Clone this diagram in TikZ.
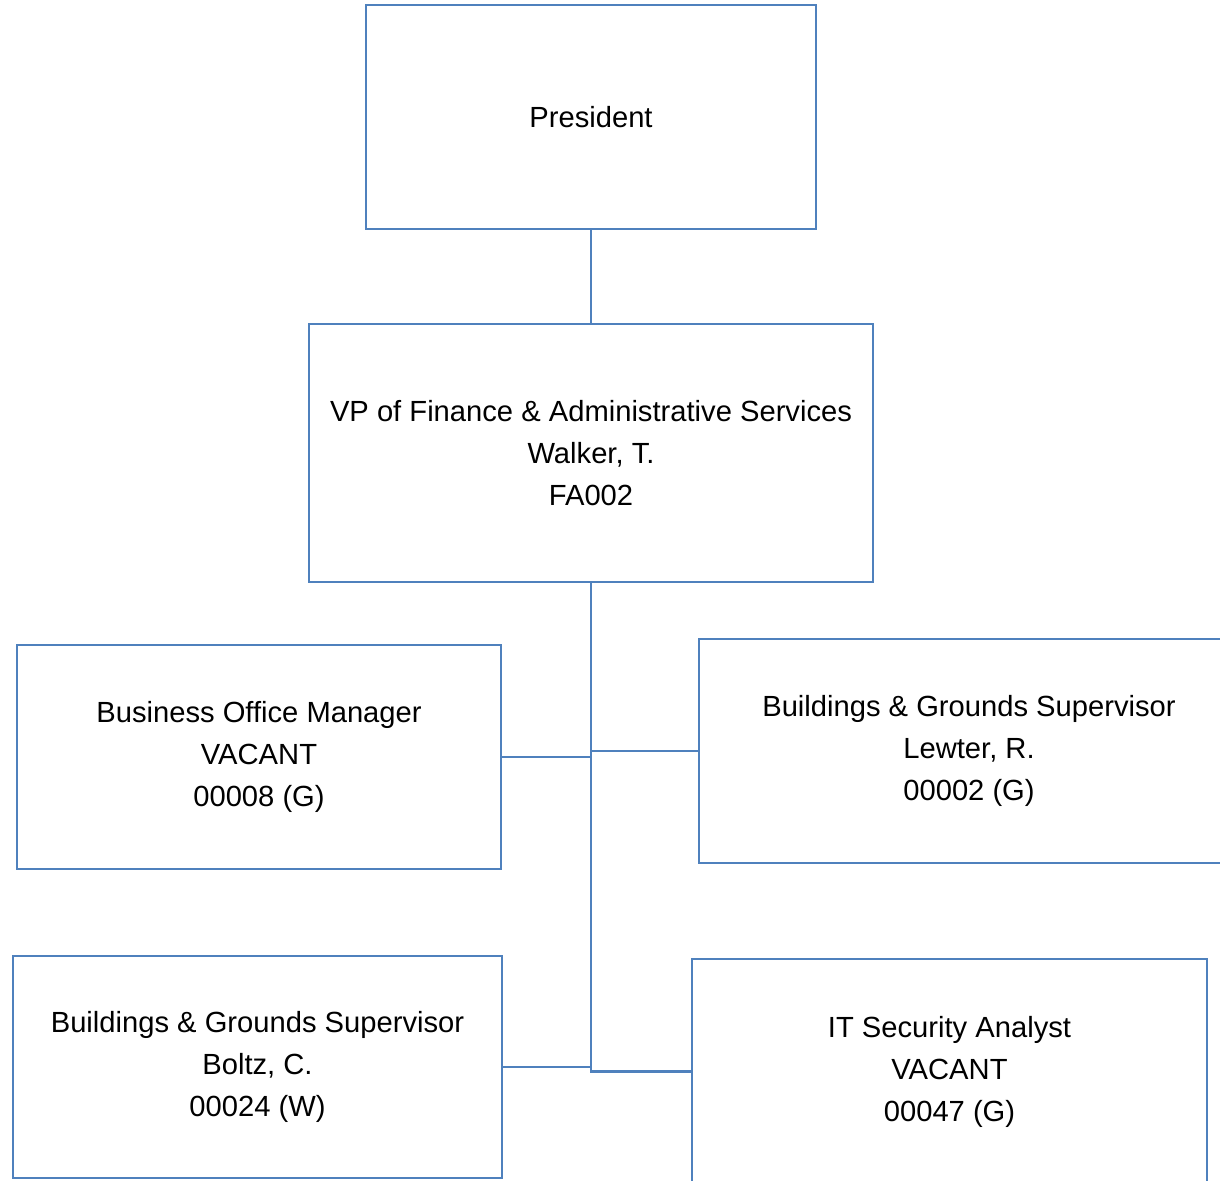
\documentclass[tikz,border=0pt]{standalone}
\usepackage{fontspec}
\setmainfont{Liberation Sans}
\definecolor{orgblue}{RGB}{79,129,189}
\tikzset{
  posbox/.style={draw=orgblue, line width=1.6pt, align=center, inner sep=0pt,
    font=\fontsize{16.6}{23.9}\selectfont},
  link/.style={draw=orgblue, line width=1.6pt}
}
\begin{document}
\begin{tikzpicture}[x=0.02cm,y=-0.02cm]
  \useasboundingbox (0,0) rectangle (1220,1180);
  \clip (0,0) rectangle (1220,1180);

  \node[posbox, minimum width=9cm, minimum height=4.48cm] (pres) at (591,117) {President};
  \node[posbox, minimum width=11.28cm, minimum height=5.16cm] (vp) at (591,453)
    {VP of Finance \& Administrative Services\\Walker, T.\\FA002};
  \node[posbox, minimum width=9.68cm, minimum height=4.48cm] (bom) at (259,757)
    {Business Office Manager\\VACANT\\00008 (G)};
  \node[posbox, minimum width=10.8cm, minimum height=4.48cm] (lewter) at (969,751)
    {Buildings \& Grounds Supervisor\\Lewter, R.\\00002 (G)};
  \node[posbox, minimum width=9.78cm, minimum height=4.44cm] (boltz) at (257.5,1067)
    {Buildings \& Grounds Supervisor\\Boltz, C.\\00024 (W)};
  \node[posbox, minimum width=10.3cm, minimum height=4.5cm] (itsec) at (949.5,1071.5)
    {IT Security Analyst\\VACANT\\00047 (G)};

  \draw[link] (pres) -- (vp);% president to vp
  \draw[link] (vp.south) -- (vp.south |- itsec.west) -- (itsec.west);% trunk
  \draw[link] (bom.east) -- (bom.east -| vp.south);
  \draw[link] (lewter.west) -- (lewter.west -| vp.south);
  \draw[link] (boltz.east) -- (boltz.east -| vp.south);
\end{tikzpicture}
\end{document}
